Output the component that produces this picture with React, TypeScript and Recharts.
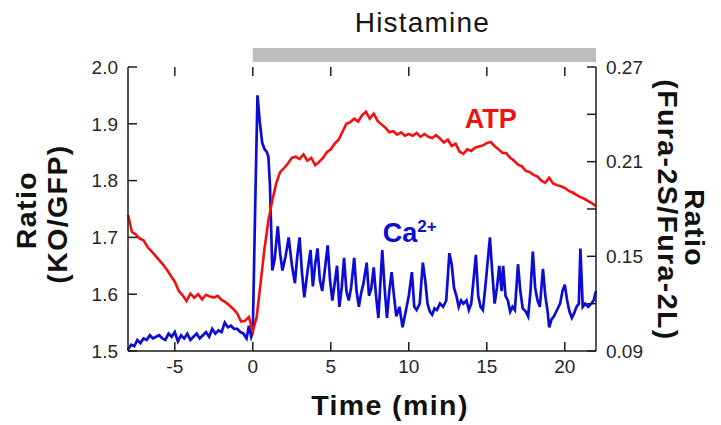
import React from 'react';
import {
  ComposedChart,
  Line,
  XAxis,
  YAxis,
  ReferenceArea,
  ReferenceDot,
} from 'recharts';

const FONT = '"Liberation Sans", Arial, Helvetica, sans-serif';
const AXIS = '#1c1c1c';
const RED = '#f21010';
const BLUE = '#0c0cd4';

const timeTicks = [-5, 0, 5, 10, 15, 20];
const atpTicks = [1.5, 1.6, 1.7, 1.8, 1.9, 2.0];
const furaTicks = [0.09, 0.12, 0.15, 0.18, 0.21, 0.24, 0.27];
const furaLabelled = [0.09, 0.15, 0.21, 0.27];

const timeDomain = [-8, 22];
const atpDomain = [1.5, 2.0];
const furaDomain = [0.09, 0.27];

// histamine added at t = 0 and kept on until the end
const histamineOn = [0, 22];

// ATP ratio (KO/GFP), left axis: [time min, ratio]
const atpTrace: [number, number][] = [
  [-8, 1.74], [-7.75, 1.71], [-7.5, 1.705], [-7.25, 1.698], [-7, 1.695],
  [-6.75, 1.683], [-6.5, 1.676], [-6.25, 1.668], [-6, 1.66], [-5.75, 1.652],
  [-5.5, 1.643], [-5.25, 1.632], [-5, 1.622], [-4.75, 1.606], [-4.5, 1.598],
  [-4.25, 1.588], [-4, 1.601], [-3.75, 1.594], [-3.5, 1.6], [-3.25, 1.591],
  [-3, 1.599], [-2.75, 1.596], [-2.5, 1.594], [-2.25, 1.597], [-2, 1.59],
  [-1.75, 1.586], [-1.5, 1.58], [-1.25, 1.574], [-1, 1.566], [-0.75, 1.552],
  [-0.5, 1.553], [-0.25, 1.56], [0, 1.535], [0.25, 1.56], [0.5, 1.62],
  [0.75, 1.68], [1, 1.73], [1.25, 1.765], [1.5, 1.795], [1.75, 1.815],
  [2, 1.822], [2.25, 1.83], [2.5, 1.84], [2.75, 1.842], [3, 1.838],
  [3.25, 1.846], [3.5, 1.835], [3.75, 1.84], [4, 1.827], [4.25, 1.833],
  [4.5, 1.84], [4.75, 1.85], [5, 1.855], [5.25, 1.865], [5.5, 1.872],
  [5.75, 1.886], [6, 1.9], [6.25, 1.903], [6.5, 1.909], [6.75, 1.904],
  [7, 1.915], [7.25, 1.921], [7.5, 1.909], [7.75, 1.918], [8, 1.905],
  [8.25, 1.899], [8.5, 1.893], [8.75, 1.885], [9, 1.887], [9.25, 1.881],
  [9.5, 1.885], [9.75, 1.879], [10, 1.882], [10.25, 1.879], [10.5, 1.884],
  [10.75, 1.877], [11, 1.882], [11.25, 1.877], [11.5, 1.875], [11.75, 1.88],
  [12, 1.874], [12.25, 1.867], [12.5, 1.872], [12.75, 1.861], [13, 1.865],
  [13.25, 1.851], [13.5, 1.847], [13.75, 1.855], [14, 1.852], [14.25, 1.858],
  [14.5, 1.86], [14.75, 1.862], [15, 1.866], [15.25, 1.868], [15.5, 1.861],
  [15.75, 1.855], [16, 1.849], [16.25, 1.848], [16.5, 1.84], [16.75, 1.835],
  [17, 1.828], [17.25, 1.825], [17.5, 1.817], [17.75, 1.815], [18, 1.81],
  [18.25, 1.807], [18.5, 1.8], [18.75, 1.796], [19, 1.805], [19.25, 1.795],
  [19.5, 1.792], [19.75, 1.79], [20, 1.787], [20.25, 1.782], [20.5, 1.779],
  [20.75, 1.775], [21, 1.771], [21.25, 1.768], [21.5, 1.764], [21.75, 1.76],
  [22, 1.755],
];

// Ca2+ ratio (Fura-2S/Fura-2L), right axis: [time min, ratio]
const caTrace: [number, number][] = [
  [-8, 0.091], [-7.8, 0.094], [-7.6, 0.093], [-7.4, 0.097], [-7.2, 0.095],
  [-7, 0.098], [-6.8, 0.097], [-6.6, 0.1], [-6.4, 0.098], [-6.2, 0.099],
  [-6, 0.1], [-5.8, 0.098], [-5.6, 0.097], [-5.4, 0.101], [-5.2, 0.099],
  [-5, 0.102], [-4.8, 0.096], [-4.6, 0.1], [-4.4, 0.098], [-4.2, 0.101],
  [-4, 0.097], [-3.8, 0.099], [-3.6, 0.101], [-3.4, 0.098], [-3.2, 0.1],
  [-3, 0.102], [-2.8, 0.099], [-2.6, 0.104], [-2.4, 0.101], [-2.2, 0.103],
  [-2, 0.102], [-1.8, 0.108], [-1.6, 0.105], [-1.4, 0.106], [-1.2, 0.104],
  [-1, 0.104], [-0.8, 0.102], [-0.6, 0.101], [-0.4, 0.098], [-0.25, 0.106],
  [-0.1, 0.099], [0, 0.102], [0.15, 0.18], [0.3, 0.252], [0.45, 0.235],
  [0.6, 0.222], [0.75, 0.218], [0.9, 0.216], [1, 0.213], [1.1, 0.195],
  [1.25, 0.141], [1.4, 0.148], [1.6, 0.169], [1.75, 0.152], [1.9, 0.141],
  [2.1, 0.15], [2.3, 0.162], [2.5, 0.145], [2.7, 0.133], [2.85, 0.15],
  [3, 0.162], [3.15, 0.14], [3.3, 0.124], [3.5, 0.14], [3.7, 0.154],
  [3.85, 0.131], [4, 0.145], [4.15, 0.155], [4.3, 0.135], [4.45, 0.128],
  [4.6, 0.14], [4.8, 0.157], [4.95, 0.135], [5.1, 0.122], [5.25, 0.133],
  [5.4, 0.144], [5.55, 0.118], [5.7, 0.13], [5.85, 0.149], [6, 0.128],
  [6.15, 0.122], [6.3, 0.13], [6.5, 0.149], [6.65, 0.128], [6.8, 0.118],
  [6.95, 0.127], [7.1, 0.133], [7.3, 0.146], [7.45, 0.125], [7.6, 0.13],
  [7.75, 0.143], [7.9, 0.125], [8.05, 0.111], [8.3, 0.154], [8.45, 0.13],
  [8.6, 0.111], [8.75, 0.128], [8.9, 0.14], [9.05, 0.125], [9.2, 0.112],
  [9.4, 0.118], [9.6, 0.105], [9.8, 0.115], [10, 0.125], [10.2, 0.14],
  [10.35, 0.118], [10.5, 0.116], [10.7, 0.12], [10.9, 0.146], [11.05, 0.135],
  [11.2, 0.12], [11.35, 0.115], [11.5, 0.113], [11.65, 0.117], [11.8, 0.116],
  [12, 0.12], [12.2, 0.118], [12.4, 0.122], [12.6, 0.152], [12.75, 0.145],
  [12.9, 0.13], [13.05, 0.125], [13.2, 0.118], [13.35, 0.122], [13.5, 0.12],
  [13.7, 0.122], [13.85, 0.116], [14, 0.12], [14.15, 0.135], [14.3, 0.151],
  [14.45, 0.125], [14.6, 0.118], [14.75, 0.116], [14.9, 0.13], [15.2, 0.162],
  [15.35, 0.14], [15.5, 0.12], [15.65, 0.13], [15.8, 0.144], [15.95, 0.128],
  [16.05, 0.144], [16.2, 0.125], [16.35, 0.122], [16.5, 0.115], [16.65, 0.118],
  [16.8, 0.116], [17, 0.145], [17.15, 0.128], [17.3, 0.117], [17.5, 0.115],
  [17.65, 0.112], [17.8, 0.128], [17.95, 0.153], [18.1, 0.13], [18.25, 0.122],
  [18.4, 0.118], [18.6, 0.142], [18.75, 0.125], [18.9, 0.115], [19, 0.105],
  [19.15, 0.11], [19.3, 0.112], [19.5, 0.116], [19.7, 0.12], [19.85, 0.128],
  [20, 0.132], [20.15, 0.122], [20.3, 0.115], [20.45, 0.111], [20.6, 0.114],
  [20.75, 0.118], [20.9, 0.12], [21, 0.155], [21.15, 0.118], [21.3, 0.12],
  [21.5, 0.118], [21.7, 0.12], [21.85, 0.122], [22, 0.128],
];

const atpData = atpTrace.map(([t, v]) => ({ t, atp: v }));
const caData = caTrace.map(([t, v]) => ({ t, ca: v }));

const W = 721;
const H = 425;
const MARGIN_TOP = 67;
const LEFT_W = 128;
const RIGHT_W = 125;
const BOTTOM_H = 74;
// plot box, as recharts lays it out from the margin and axis sizes above
const plot = {
  x: LEFT_W,
  y: MARGIN_TOP,
  w: W - LEFT_W - RIGHT_W,
  h: H - MARGIN_TOP - BOTTOM_H,
};
const TICK_PX = 9;

const tickText = { fontSize: 19, fontFamily: FONT, fill: '#262626' };
const axisLine = { stroke: AXIS, strokeWidth: 1.5 };
const titleText = {
  fontSize: 28.5,
  fontFamily: FONT,
  fontWeight: 'bold' as const,
  fill: '#111',
  letterSpacing: 1.4,
};

function LeftTitle({ viewBox }: any) {
  const cy = viewBox.y + viewBox.height / 2;
  return (
    <g {...titleText}>
      <text transform={`translate(36, ${cy + 1}) rotate(-90)`} textAnchor="middle">
        Ratio
      </text>
      <text transform={`translate(67, ${cy + 5}) rotate(-90)`} textAnchor="middle">
        (KO/GFP)
      </text>
    </g>
  );
}

function RightTitle({ viewBox }: any) {
  const cy = viewBox.y + viewBox.height / 2;
  return (
    <g {...titleText}>
      <text transform={`translate(658, ${cy + 1}) rotate(90)`} textAnchor="middle">
        (Fura-2S/Fura-2L)
      </text>
      <text transform={`translate(685, ${cy + 19}) rotate(90)`} textAnchor="middle">
        Ratio
      </text>
    </g>
  );
}

function BottomTitle({ viewBox }: any) {
  const cx = viewBox.x + viewBox.width / 2 + 28;
  return (
    <text x={cx} y={viewBox.y + 64} textAnchor="middle" {...titleText}>
      Time (min)
    </text>
  );
}

function HistamineLabel({ viewBox }: any) {
  return (
    <text
      x={viewBox.x + viewBox.width / 2 - 2}
      y={viewBox.y - 16}
      textAnchor="middle"
      fontSize={28}
      fontFamily={FONT}
      fill="#151515"
      letterSpacing={1.2}
    >
      Histamine
    </text>
  );
}

function AtpLabel({ viewBox }: any) {
  return (
    <text
      x={viewBox.x + viewBox.width / 2}
      y={viewBox.y + viewBox.height / 2}
      textAnchor="middle"
      fontSize={27}
      fontWeight="bold"
      fontFamily={FONT}
      fill={RED}
    >
      ATP
    </text>
  );
}

function CaLabel({ viewBox }: any) {
  return (
    <text
      x={viewBox.x + viewBox.width / 2}
      y={viewBox.y + viewBox.height / 2}
      textAnchor="start"
      fontSize={27}
      fontWeight="bold"
      fontFamily={FONT}
      fill={BLUE}
    >
      Ca
      <tspan fontSize={17} dy={-10}>
        2+
      </tspan>
    </text>
  );
}

const furaFormat = (v: number) =>
  furaLabelled.some((l) => Math.abs(l - v) < 1e-6) ? v.toFixed(2) : '';

// inward tick marks on all four edges of the frame; drawn on top of the chart
function InwardTicks() {
  const tx = (t: number) =>
    plot.x + ((t - timeDomain[0]) / (timeDomain[1] - timeDomain[0])) * plot.w;
  const ly = (v: number) =>
    plot.y + plot.h - ((v - atpDomain[0]) / (atpDomain[1] - atpDomain[0])) * plot.h;
  const ry = (v: number) =>
    plot.y + plot.h - ((v - furaDomain[0]) / (furaDomain[1] - furaDomain[0])) * plot.h;
  const bottom = plot.y + plot.h;
  const right = plot.x + plot.w;
  return (
    <svg
      width={W}
      height={H}
      style={{ position: 'absolute', left: 0, top: 0, pointerEvents: 'none' }}
    >
      <g stroke={AXIS} strokeWidth={1.5}>
        {timeTicks.map((t) => (
          <line key={`b${t}`} x1={tx(t)} x2={tx(t)} y1={bottom} y2={bottom - TICK_PX} />
        ))}
        {timeTicks.map((t) => (
          <line key={`t${t}`} x1={tx(t)} x2={tx(t)} y1={plot.y} y2={plot.y + TICK_PX} />
        ))}
        {atpTicks.map((v) => (
          <line key={`l${v}`} x1={plot.x} x2={plot.x + TICK_PX} y1={ly(v)} y2={ly(v)} />
        ))}
        {furaTicks.map((v) => (
          <line key={`r${v}`} x1={right} x2={right - TICK_PX} y1={ry(v)} y2={ry(v)} />
        ))}
      </g>
    </svg>
  );
}

export default function App() {
  return (
    <div style={{ position: 'absolute', left: 0, top: 0, width: W, height: H }}>
      <ComposedChart
        width={W}
        height={H}
        margin={{ top: MARGIN_TOP, right: 0, bottom: 0, left: 0 }}
      >
        <XAxis
          xAxisId="bottom"
          dataKey="t"
          type="number"
          domain={timeDomain}
          ticks={timeTicks}
          height={BOTTOM_H}
          tickSize={0}
          tickMargin={9}
          tick={tickText}
          tickLine={false}
          axisLine={axisLine}
          label={<BottomTitle />}
        />
        <XAxis
          xAxisId="top"
          orientation="top"
          dataKey="t"
          type="number"
          domain={timeDomain}
          ticks={timeTicks}
          height={0}
          tickSize={0}
          tick={false}
          tickLine={false}
          axisLine={axisLine}
        />
        <YAxis
          yAxisId="left"
          orientation="left"
          domain={atpDomain}
          ticks={atpTicks}
          width={LEFT_W}
          tickSize={0}
          tickMargin={10}
          tick={tickText}
          tickFormatter={(v: number) => v.toFixed(1)}
          tickLine={false}
          axisLine={axisLine}
          label={<LeftTitle />}
        />
        <YAxis
          yAxisId="right"
          orientation="right"
          domain={furaDomain}
          ticks={furaTicks}
          width={RIGHT_W}
          tickSize={0}
          tickMargin={10}
          tick={tickText}
          tickFormatter={furaFormat}
          tickLine={false}
          axisLine={axisLine}
          label={<RightTitle />}
        />
        <ReferenceArea
          xAxisId="bottom"
          yAxisId="left"
          x1={histamineOn[0]}
          x2={histamineOn[1]}
          y1={2.0088}
          y2={2.0335}
          ifOverflow="visible"
          fill="#bdbdbd"
          fillOpacity={1}
          stroke="none"
          label={<HistamineLabel />}
        />
        <Line
          xAxisId="bottom"
          yAxisId="right"
          data={caData}
          dataKey="ca"
          type="linear"
          stroke={BLUE}
          strokeWidth={2.7}
          dot={false}
          isAnimationActive={false}
        />
        <Line
          xAxisId="bottom"
          yAxisId="left"
          data={atpData}
          dataKey="atp"
          type="linear"
          stroke={RED}
          strokeWidth={2.6}
          dot={false}
          isAnimationActive={false}
        />
        <ReferenceDot
          xAxisId="bottom"
          yAxisId="left"
          x={15.25}
          y={1.893}
          r={1}
          fill="none"
          stroke="none"
          ifOverflow="visible"
          label={<AtpLabel />}
        />
        <ReferenceDot
          xAxisId="bottom"
          yAxisId="right"
          x={8.33}
          y={0.159}
          r={1}
          fill="none"
          stroke="none"
          ifOverflow="visible"
          label={<CaLabel />}
        />
      </ComposedChart>
      <InwardTicks />
    </div>
  );
}
